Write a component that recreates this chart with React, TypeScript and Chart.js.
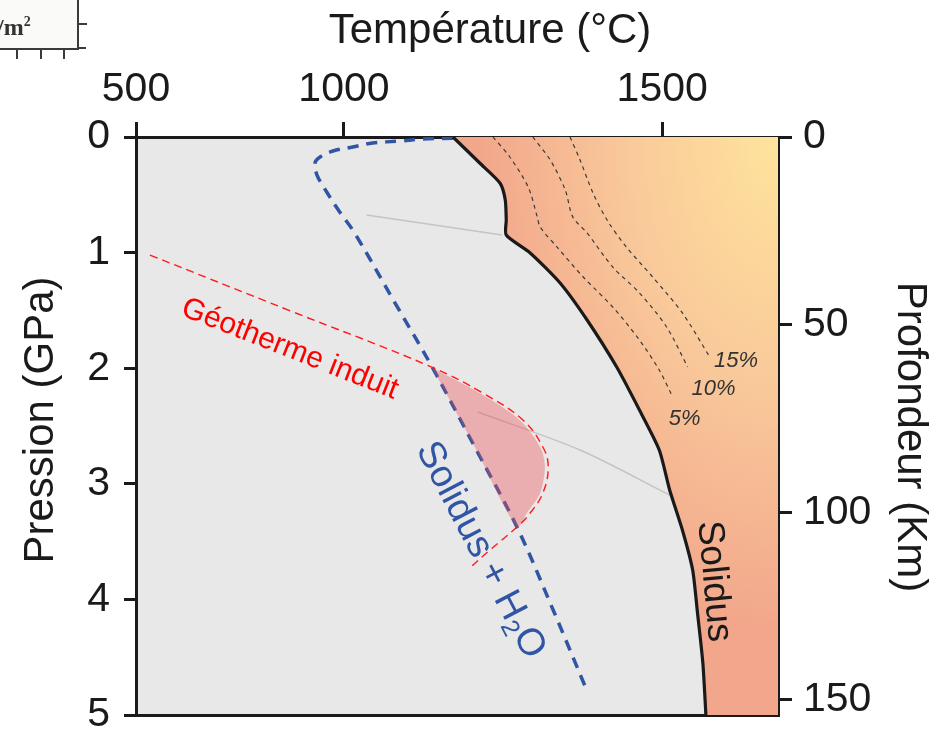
import React, { useEffect, useRef } from 'react';
import { Chart, registerables, LinearScale } from 'chart.js';

// ---------- axes ----------
const P_EXP = 1.83;
const X_MIN = 500;
const X_MAX = 1650;
const X_TICKS = [500, 1000, 1500];
const Y_MIN = 0;
const Y_MAX = 5;
const Y_TICKS = [0, 1, 2, 3, 4, 5];
const DEPTH_MAX = 154;
const DEPTH_TICKS = [0, 50, 100, 150];

// ---------- series (T in °C, P in GPa) ----------
const SOLIDUS_T = [1191, 1234, 1266, 1274, 1275.5, 1275.5, 1312, 1356.5, 1395.6, 1437.5, 1469, 1496, 1510, 1527, 1540.6, 1547, 1554, 1558];
const SOLIDUS_P = [0, 0.225, 0.4, 0.545, 0.718, 0.848, 1.003, 1.263, 1.583, 1.99, 2.362, 2.708, 3.054, 3.4, 3.746, 4.118, 4.55, 5.0];

const WET_T = [1191, 1140.6, 1102, 1053, 1016.5, 979, 954, 944, 948, 967, 992, 1020, 1093, 1157.4, 1226, 1292, 1345, 1395];
const WET_P = [0.01, 0.017, 0.035, 0.052, 0.087, 0.121, 0.173, 0.225, 0.329, 0.476, 0.649, 0.83, 1.436, 1.998, 2.68, 3.374, 4.074, 4.784];

const GEO_T = [545, 894.7, 1155.8, 1238.8, 1301, 1331, 1339, 1331, 1312, 1292, 1250, 1218];
const GEO_P = [1.021, 1.505, 1.99, 2.215, 2.448, 2.682, 2.855, 3.08, 3.253, 3.374, 3.573, 3.728];

const MELT_ZONE_T = [1157, 1234, 1296, 1327, 1334, 1327, 1307, 1292, 1226, 1157];
const MELT_ZONE_P = [1.998, 2.215, 2.448, 2.682, 2.855, 3.08, 3.253, 3.374, 2.68, 1.998];

const GRAY_A_T = [1042, 1269];
const GRAY_A_P = [0.675, 0.848];
const GRAY_B_T = [1231, 1385.5, 1510];
const GRAY_B_P = [2.379, 2.708, 3.097];

const M5_T = [1255, 1281, 1309, 1322.7, 1327, 1352, 1390, 1432, 1469, 1496, 1514];
const M5_P = [0, 0.173, 0.433, 0.692, 0.779, 0.952, 1.211, 1.471, 1.756, 2.016, 2.249];
const M10_T = [1316, 1342, 1364, 1375, 1395.6, 1432, 1469, 1506, 1534];
const M10_P = [0, 0.199, 0.458, 0.692, 0.83, 1.125, 1.349, 1.644, 1.99];
const M15_T = [1371, 1385.5, 1404, 1424, 1451, 1487, 1527, 1563];
const M15_P = [0, 0.199, 0.484, 0.718, 0.952, 1.211, 1.522, 1.903];

const MELT_LABELS = ['15%', '10%', '5%'];
const MELT_LABEL_T = [1597, 1568, 1530];
const MELT_LABEL_P = [1.938, 2.18, 2.44];

const FAMILY = "'Liberation Sans', Arial, Helvetica, sans-serif";
const INK = '#1a1a1a';

class PowerScale extends LinearScale {
  static id = 'power';
  static defaults = LinearScale.defaults;
  _f(v: number) {
    return Math.pow(v / 1000, P_EXP);
  }
  getPixelForValue(value: any) {
    if (value === null || value === undefined || isNaN(value)) return NaN;
    const a = this._f(this.min);
    const b = this._f(this.max);
    return this.getPixelForDecimal((this._f(value) - a) / (b - a));
  }
  getValueForPixel(pixel: number) {
    const a = this._f(this.min);
    const b = this._f(this.max);
    const d = this.getDecimalForPixel(pixel);
    return 1000 * Math.pow(a + d * (b - a), 1 / P_EXP);
  }
}

Chart.register(...registerables, PowerScale);

const pts = (T: number[], P: number[]) => T.map((t, i) => ({ x: t, y: P[i] }));

let orangePattern: any = null;
function getOrange(chart: any) {
  if (orangePattern) return orangePattern;
  const a = chart.chartArea;
  if (!a) return '#F4B08E';
  const off = document.createElement('canvas');
  off.width = chart.width;
  off.height = chart.height;
  const c = off.getContext('2d')!;
  c.fillStyle = '#F2A68B';
  c.fillRect(0, 0, off.width, off.height);
  c.save();
  c.translate(a.right, a.top);
  c.scale(1, 1.65);
  const g = c.createRadialGradient(0, 0, 0, 0, 0, 300);
  g.addColorStop(0, '#FFE49C');
  g.addColorStop(0.5, '#F9C99A');
  g.addColorStop(1, '#F2A68B');
  c.fillStyle = g;
  c.fillRect(-1000, -1000, 2000, 2000);
  c.restore();
  orangePattern = chart.ctx.createPattern(off, 'no-repeat');
  return orangePattern;
}

function drawParts(ctx: any, x: number, y: number, angleDeg: number, parts: any[], color: string, mainSize: number) {
  ctx.save();
  ctx.translate(x, y);
  ctx.rotate((angleDeg * Math.PI) / 180);
  ctx.fillStyle = color;
  ctx.textBaseline = 'alphabetic';
  ctx.textAlign = 'left';
  let total = 0;
  parts.forEach((p) => {
    ctx.font = p.font;
    total += ctx.measureText(p.text).width;
  });
  let cx = -total / 2;
  const base = mainSize * 0.35;
  parts.forEach((p) => {
    ctx.font = p.font;
    ctx.fillText(p.text, cx, base + (p.dy || 0));
    cx += ctx.measureText(p.text).width;
  });
  ctx.restore();
}

const textPlugin = {
  id: 'texts',
  beforeDraw(chart: any) {
    const { ctx, chartArea: a } = chart;
    ctx.save();
    ctx.fillStyle = '#E8E8E8';
    ctx.fillRect(a.left, a.top, a.right - a.left, a.bottom - a.top);
    ctx.restore();
  },
  afterDatasetsDraw(chart: any) {
    const { ctx } = chart;
    const xs = chart.scales.x;
    const ys = chart.scales.y;
    const px = (t: number) => xs.getPixelForValue(t);
    const py = (p: number) => ys.getPixelForValue(p);

    ctx.save();
    ctx.fillStyle = '#333333';
    ctx.font = `italic 22px ${FAMILY}`;
    ctx.textAlign = 'center';
    ctx.textBaseline = 'middle';
    MELT_LABELS.forEach((l, i) => ctx.fillText(l, px(MELT_LABEL_T[i]), py(MELT_LABEL_P[i])));
    ctx.restore();

    drawParts(ctx, px(894.7), py(1.817), 21.5, [{ text: 'Géotherme induit', font: `30px ${FAMILY}` }], '#FF0000', 30);
    drawParts(
      ctx,
      px(1239),
      py(3.564),
      62.4,
      [
        { text: 'Solidus + H', font: `38px ${FAMILY}` },
        { text: '2', font: `25px ${FAMILY}`, dy: 7 },
        { text: 'O', font: `38px ${FAMILY}` },
      ],
      '#2F55A4',
      38
    );
    drawParts(ctx, px(1572), py(3.841), 84.9, [{ text: 'Solidus', font: `37px ${FAMILY}` }], INK, 37);
  },
  afterDraw(chart: any) {
    const { ctx } = chart;
    ctx.save();
    ctx.fillStyle = INK;
    ctx.font = `42px ${FAMILY}`;
    ctx.textAlign = 'center';
    ctx.textBaseline = 'alphabetic';
    ctx.fillText('Température (°C)', 490, 43);
    ctx.save();
    ctx.translate(53, 420);
    ctx.rotate(-Math.PI / 2);
    ctx.fillText('Pression (GPa)', 0, 0);
    ctx.restore();
    ctx.save();
    ctx.translate(898, 437);
    ctx.rotate(Math.PI / 2);
    ctx.fillText('Profondeur (Km)', 0, 0);
    ctx.restore();
    ctx.restore();
  },
};

export default function App() {
  const ref = useRef<HTMLCanvasElement>(null);

  useEffect(() => {
    if (!ref.current) return;
    orangePattern = null;
    const line = (data: any[], extra: any) => ({
      data,
      showLine: true,
      pointRadius: 0,
      pointHoverRadius: 0,
      fill: false,
      xAxisID: 'x',
      yAxisID: 'y',
      ...extra,
    });
    const tickFont = { family: FAMILY, size: 41 };
    const chart = new Chart(ref.current, {
      type: 'scatter',
      data: {
        datasets: [
          line(pts(SOLIDUS_T, SOLIDUS_P), { borderColor: INK, borderWidth: 3.2, tension: 0.22, order: 1 }),
          line(pts(M5_T, M5_P), { borderColor: '#3a3a3a', borderWidth: 1.2, borderDash: [4, 4], tension: 0.3, order: 2 }),
          line(pts(M10_T, M10_P), { borderColor: '#3a3a3a', borderWidth: 1.2, borderDash: [4, 4], tension: 0.3, order: 2 }),
          line(pts(M15_T, M15_P), { borderColor: '#3a3a3a', borderWidth: 1.2, borderDash: [4, 4], tension: 0.3, order: 2 }),
          line(pts(GEO_T, GEO_P), { borderColor: '#FF1A1A', borderWidth: 1.4, borderDash: [8, 5], tension: 0.4, order: 3 }),
          line(pts(MELT_ZONE_T, MELT_ZONE_P), {
            borderWidth: 0,
            backgroundColor: 'rgba(238,80,85,0.38)',
            fill: 'shape',
            tension: 0.3,
            order: 4,
          }),
          line(pts(WET_T, WET_P), { borderColor: '#2F55A4', borderWidth: 3.5, borderDash: [11, 8], tension: 0.35, order: 5 }),
          line(pts(GRAY_A_T, GRAY_A_P), { borderColor: '#C4C4C4', borderWidth: 1.5, order: 6 }),
          line(pts(GRAY_B_T, GRAY_B_P), { borderColor: '#C4C4C4', borderWidth: 1.5, tension: 0.3, order: 6 }),
          line(pts([...SOLIDUS_T, X_MAX, X_MAX, SOLIDUS_T[0]], [...SOLIDUS_P, Y_MAX, Y_MIN, SOLIDUS_P[0]]), {
            borderWidth: 0,
            backgroundColor: (c: any) => getOrange(c.chart),
            fill: 'shape',
            tension: 0,
            order: 10,
          }),
        ],
      },
      options: {
        responsive: false,
        maintainAspectRatio: false,
        devicePixelRatio: 1,
        animation: false,
        events: [],
        layout: { padding: 0 },
        plugins: { legend: { display: false }, tooltip: { enabled: false } },
        scales: {
          x: {
            type: 'power' as any,
            position: 'top',
            min: X_MIN,
            max: X_MAX,
            bounds: 'data',
            z: 1,
            afterBuildTicks: (s: any) => {
              s.ticks = X_TICKS.map((v) => ({ value: v }));
            },
            afterFit: (s: any) => {
              s.height = 137;
              s.paddingLeft = 0;
              s.paddingRight = 0;
            },
            ticks: { font: tickFont, color: INK, padding: 8, maxRotation: 0, minRotation: 0, autoSkip: false, callback: (v: any) => String(v) },
            grid: { drawOnChartArea: false, tickLength: 15, color: INK, lineWidth: 3 },
            border: { color: INK, width: 3 },
          },
          xb: {
            type: 'linear',
            position: 'bottom',
            min: 0,
            max: 1,
            z: 1,
            afterFit: (s: any) => {
              s.height = 19;
              s.paddingLeft = 0;
              s.paddingRight = 0;
            },
            ticks: { display: false },
            grid: { display: false },
            border: { color: INK, width: 3 },
          },
          y: {
            type: 'linear',
            position: 'left',
            reverse: true,
            min: Y_MIN,
            max: Y_MAX,
            bounds: 'data',
            z: 1,
            afterBuildTicks: (s: any) => {
              s.ticks = Y_TICKS.map((v) => ({ value: v }));
            },
            afterFit: (s: any) => {
              s.width = 136;
              s.paddingTop = 0;
              s.paddingBottom = 0;
            },
            ticks: { font: tickFont, color: INK, padding: 14, autoSkip: false, callback: (v: any) => String(v) },
            grid: { drawOnChartArea: false, tickLength: 12, color: INK, lineWidth: 3 },
            border: { color: INK, width: 3 },
          },
          y2: {
            type: 'linear',
            position: 'right',
            reverse: true,
            min: 0,
            max: DEPTH_MAX,
            bounds: 'data',
            z: 1,
            afterBuildTicks: (s: any) => {
              s.ticks = DEPTH_TICKS.map((v) => ({ value: v }));
            },
            afterFit: (s: any) => {
              s.width = 160;
              s.paddingTop = 0;
              s.paddingBottom = 0;
            },
            ticks: { font: tickFont, color: INK, padding: 11, autoSkip: false, callback: (v: any) => String(v) },
            grid: { drawOnChartArea: false, tickLength: 14, color: INK, lineWidth: 3 },
            border: { color: INK, width: 3 },
          },
        },
      } as any,
      plugins: [textPlugin],
    });
    return () => chart.destroy();
  }, []);

  const tick = (style: any) => <div style={{ position: 'absolute', background: '#3a3a3a', ...style }} />;

  return (
    <div style={{ position: 'absolute', left: 0, top: 0, width: 938, height: 734, background: '#ffffff', overflow: 'hidden' }}>
      <canvas ref={ref} width={938} height={734} style={{ position: 'absolute', left: 0, top: 0, width: 938, height: 734 }} />
      <div
        style={{
          position: 'absolute',
          left: 0,
          top: 0,
          width: 79,
          height: 50,
          boxSizing: 'border-box',
          background: '#FAFAF8',
          borderRight: '2.5px solid #3a3a3a',
          borderBottom: '2.5px solid #3a3a3a',
        }}
      />
      {tick({ left: 16, top: 49, width: 2, height: 10 })}
      {tick({ left: 40, top: 49, width: 2, height: 10 })}
      {tick({ left: 63, top: 49, width: 2, height: 10 })}
      {tick({ left: 78, top: 23, width: 9, height: 2 })}
      {tick({ left: 78, top: 47, width: 8, height: 2 })}
      <div
        style={{
          position: 'absolute',
          left: -3,
          top: 14,
          fontFamily: "'Liberation Serif', 'DejaVu Serif', serif",
          fontWeight: 'bold',
          fontSize: 24,
          color: '#333',
          lineHeight: '26px',
          whiteSpace: 'nowrap',
        }}
      >
        /m<span style={{ fontSize: 14, position: 'relative', top: -9 }}>2</span>
      </div>
    </div>
  );
}
